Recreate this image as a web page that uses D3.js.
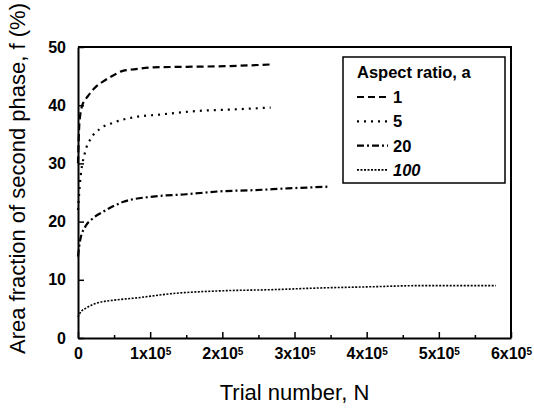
<!DOCTYPE html>
<meta charset="utf-8">
<head>
<style>
body { margin: 0; background: #fff; }
text { font-family: "Liberation Sans", Arial, sans-serif; fill: #000; }
.tick text { font-size: 16px; font-weight: bold; }
.title { font-size: 22px; }
.legend text { font-size: 16.5px; font-weight: bold; }
</style>
</head>
<body>
<script src="https://d3js.org/d3.v7.min.js"></script>
<script>

// values (N = trial number, f = area fraction %)
var ratios = ["1", "5", "20", "100"];
var n1 = [0, 2000, 6000, 14000, 25000, 35000, 50000, 62000, 80000, 104000, 150000, 203000, 267000];
var f1 = [30, 37, 40, 41.6, 43.2, 44.1, 45.2, 45.9, 46.2, 46.5, 46.6, 46.7, 47.0];
var n5 = [0, 3000, 9700, 17000, 30000, 49000, 76000, 114000, 165000, 220000, 267000];
var f5 = [22, 27, 31.9, 34.1, 35.9, 37.0, 37.9, 38.4, 39.0, 39.3, 39.6];
var n20 = [0, 3000, 10000, 20000, 35000, 63000, 104000, 150000, 197000, 243000, 290000, 347000];
var f20 = [14, 16.8, 19.1, 20.5, 21.7, 23.4, 24.3, 24.7, 25.2, 25.4, 25.7, 26.0];
var n100 = [0, 2800, 12000, 26000, 50000, 82000, 128000, 197000, 267000, 336000, 406000, 475000, 579000];
var f100 = [3.6, 4.3, 5.2, 6.0, 6.5, 6.9, 7.6, 8.1, 8.3, 8.6, 8.8, 9.0, 9.0];
var xTicks = [0, 100000, 200000, 300000, 400000, 500000, 600000];
var yTicks = [0, 10, 20, 30, 40, 50];

var series = [
  {n: n1, f: f1, dash: "7,4", w: 2.2},
  {n: n5, f: f5, dash: "2,5", w: 2.2},
  {n: n20, f: f20, dash: "7,3,2,3", w: 2.2},
  {n: n100, f: f100, dash: "2,1.5", w: 1.6}
];

var margin = {top: 47, right: 23, bottom: 73, left: 78},
    width = 534 - margin.left - margin.right,
    height = 411 - margin.top - margin.bottom;

var svg = d3.select("body").append("svg")
    .attr("width", 534)
    .attr("height", 411)
  .append("g")
    .attr("transform", "translate(" + margin.left + "," + margin.top + ")");

var x = d3.scaleLinear().domain([0, 600000]).range([0, width]);
var y = d3.scaleLinear().domain([0, 50]).range([height, 0]);

// x axis: major ticks inward, labels like 1x10^5
var xAxis = svg.append("g")
    .attr("transform", "translate(0," + height + ")")
    .call(d3.axisBottom(x).tickValues(xTicks).tickSizeInner(-6).tickSizeOuter(0).tickPadding(10).tickFormat(""));
xAxis.selectAll(".tick text").each(function(d) {
  var t = d3.select(this);
  if (d === 0) { t.text("0"); return; }
  t.append("tspan").text((d / 100000) + "x10");
  t.append("tspan").attr("dy", "-0.45em").style("font-size", "10px").text("5");
});
svg.append("g")
    .attr("transform", "translate(0," + height + ")")
    .call(d3.axisBottom(x).tickValues(d3.range(50000, 600000, 100000)).tickSizeInner(-3).tickSizeOuter(0).tickFormat(""))
    .select(".domain").remove();

var yAxis = svg.append("g")
    .call(d3.axisLeft(y).tickValues(yTicks).tickSizeInner(-6).tickSizeOuter(0).tickPadding(12));

svg.selectAll(".domain").attr("stroke-width", 2);
svg.selectAll(".tick line").attr("stroke-width", 1.5);

// frame top and right
svg.append("path")
    .attr("d", "M0,0H" + width + "V" + height)
    .attr("fill", "none")
    .attr("stroke", "#000")
    .attr("stroke-width", 2);

var line = d3.line()
    .x(function(d) { return x(d[0]); })
    .y(function(d) { return y(d[1]); })
    .curve(d3.curveMonotoneX);

series.forEach(function(s) {
  svg.append("path")
      .datum(d3.zip(s.n, s.f))
      .attr("d", line)
      .attr("fill", "none")
      .attr("stroke", "#000")
      .attr("stroke-width", s.w)
      .attr("stroke-dasharray", s.dash);
});

// legend
var lg = svg.append("g").attr("class", "legend")
    .attr("transform", "translate(" + (343 - margin.left) + "," + (57 - margin.top) + ")");
lg.append("rect")
    .attr("width", 162)
    .attr("height", 126)
    .attr("fill", "#fff")
    .attr("stroke", "#000")
    .attr("stroke-width", 1.5);
lg.append("text").attr("x", 14).attr("y", 21).text("Aspect ratio, a");
ratios.forEach(function(r, i) {
  var yy = 40 + i * 24.3;
  lg.append("line")
      .attr("x1", 14).attr("x2", 45)
      .attr("y1", yy).attr("y2", yy)
      .attr("stroke", "#000")
      .attr("stroke-width", series[i].w)
      .attr("stroke-dasharray", series[i].dash);
  lg.append("text").attr("x", 50).attr("y", yy + 6)
      .style("font-style", r === "100" ? "italic" : null)
      .text(r);
});

// axis titles
svg.append("text")
    .attr("class", "title")
    .attr("x", width / 2)
    .attr("y", height + 62)
    .attr("text-anchor", "middle")
    .text("Trial number, N");

svg.append("text")
    .attr("class", "title")
    .attr("transform", "rotate(-90)")
    .attr("x", -height / 2 + 14)
    .attr("y", -53)
    .attr("text-anchor", "middle")
    .text("Area fraction of second phase, f (%)");

</script>
</body>
